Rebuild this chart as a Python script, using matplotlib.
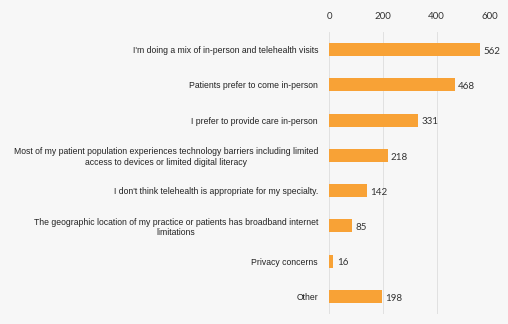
import matplotlib.pyplot as plt

# Reasons for not offering more telehealth (count of responses)
reasons = [
    "I'm doing a mix of in-person and telehealth visits",
    "Patients prefer to come in-person",
    "I prefer to provide care in-person",
    "Most of my patient population experiences technology barriers including limited\naccess to devices or limited digital literacy",
    "I don't think telehealth is appropriate for my specialty.",
    "The geographic location of my practice or patients has broadband internet\nlimitations",
    "Privacy concerns",
    "Other",
]
counts = [562, 468, 331, 218, 142, 85, 16, 198]
ticks = [0, 200, 400, 600]

bar_color = "#F8A236"
bg = "#F7F7F7"

fig = plt.figure(figsize=(5.08, 3.24), dpi=100, facecolor=bg)
ax = fig.add_axes([0.648, 0.031, 0.317, 0.87], facecolor=bg)

ypos = list(range(len(reasons)))
ax.barh(ypos, counts, height=0.37, color=bar_color, zorder=3)

for y, v in zip(ypos, counts):
    ax.text(v + 12, y + 0.05, str(v), va="center", ha="left", fontsize=7,
            family="Lato", color="#333333")

ax.set_yticks(ypos)
ax.set_yticklabels(reasons, fontsize=6.2, family="Liberation Sans", color="#222222",
                   multialignment="center")
ax.set_ylim(len(reasons) - 0.5, -0.5)

ax.set_xlim(0, 600)
ax.set_xticks(ticks)
ax.set_xticklabels([str(t) for t in ticks], fontsize=7, family="Lato", color="#333333")
ax.xaxis.tick_top()
ax.tick_params(axis="y", length=0, pad=8)
ax.tick_params(axis="x", length=0, pad=8)
ax.grid(axis="x", color="#DDDDDD", linewidth=0.6, zorder=0)
for s in ax.spines.values():
    s.set_visible(False)

fig.savefig("out.png", dpi=100, facecolor=bg)
